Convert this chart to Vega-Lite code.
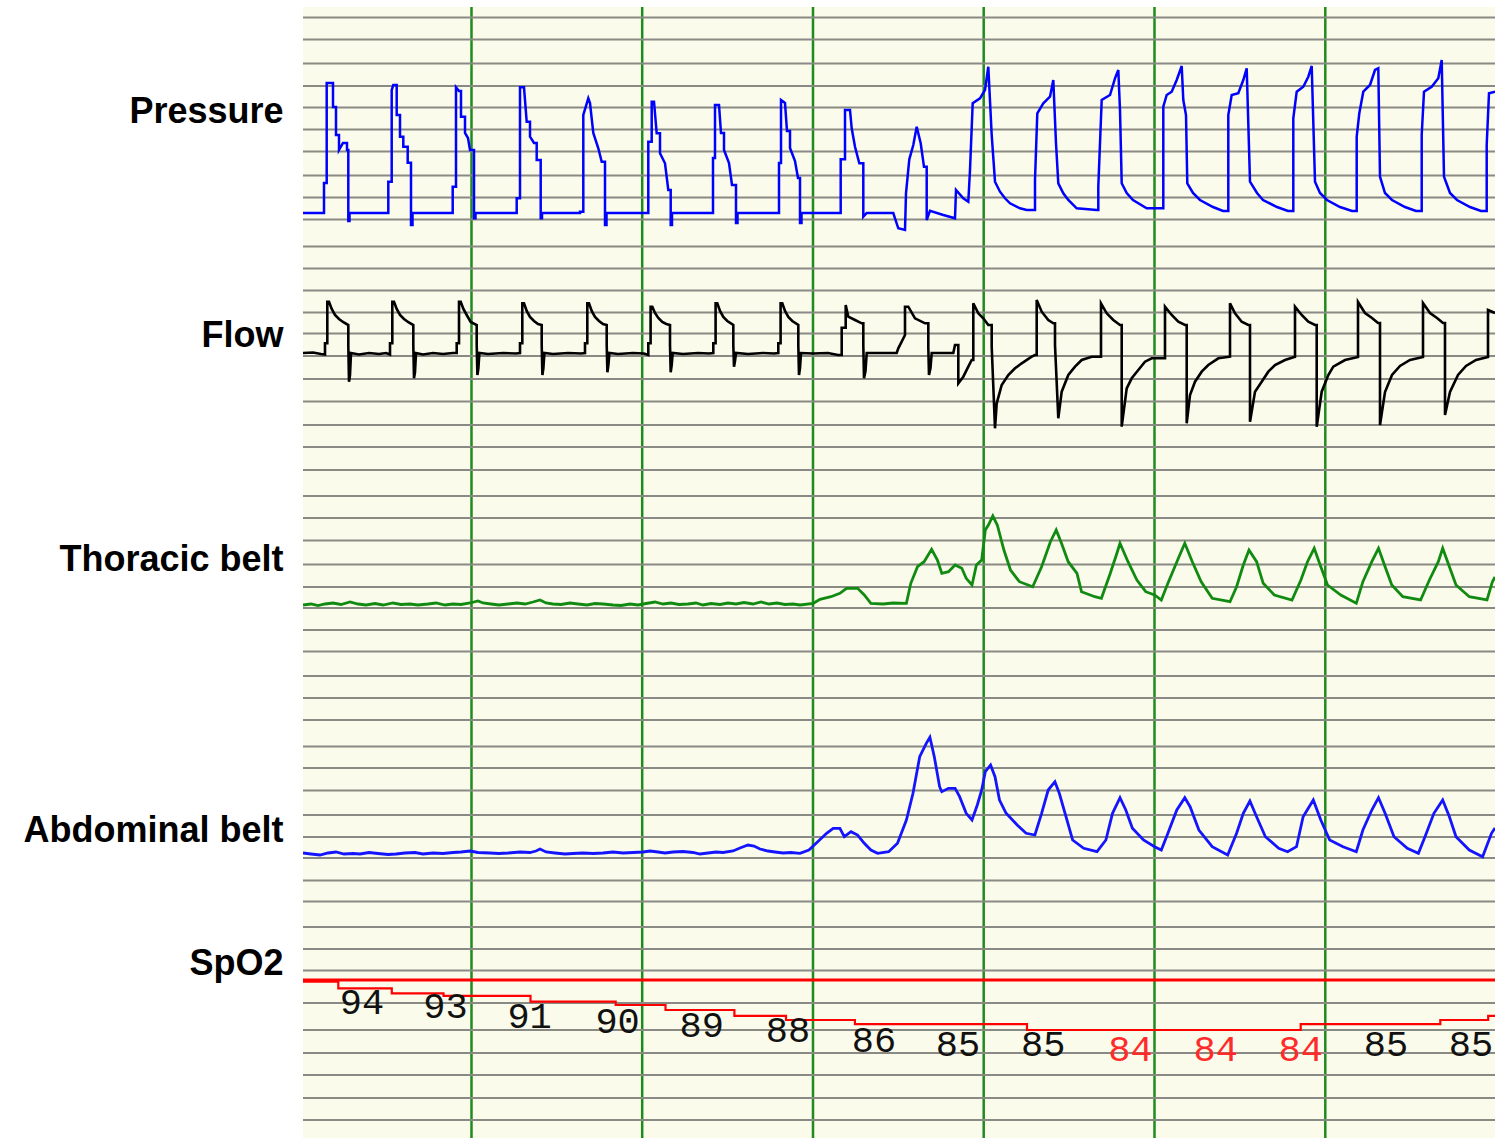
{
"$schema":"https://vega.github.io/schema/vega-lite/v6.json",
"width":1192,"height":1131,"autosize":"none",
"padding":{"left":303,"top":7,"right":0,"bottom":0},
"background":"white",
"config":{"view":{"fill":"#fafbea","stroke":null}},
"datasets":{
"grid":[{"row":17.5},{"row":39.5},{"row":63.5},{"row":86},{"row":107.5},{"row":129.5},{"row":151.5},{"row":175.5},{"row":197.5},{"row":219.5},{"row":246.5},{"row":268.5},{"row":290.5},{"row":312.5},{"row":333.5},{"row":356},{"row":379},{"row":401.5},{"row":425},{"row":447},{"row":470},{"row":496},{"row":518},{"row":540.5},{"row":564.5},{"row":587},{"row":608},{"row":630},{"row":651.5},{"row":676},{"row":698},{"row":720},{"row":746.5},{"row":768},{"row":790.5},{"row":815},{"row":837},{"row":858},{"row":880.5},{"row":901.5},{"row":927},{"row":949},{"row":970.5},{"row":1003},{"row":1030},{"row":1053},{"row":1075},{"row":1098},{"row":1120}],
"epochs":[{"s":168.5},{"s":339.2},{"s":510},{"s":680.7},{"s":851.5},{"s":1022.3}],
"ceiling":[{"spo2":96}],
"pressure":[{"s":0,"v":0},{"s":21,"v":0},{"s":21,"v":30},{"s":23.7,"v":30},{"s":23.7,"v":130},{"s":30,"v":130},{"s":30,"v":106},{"s":33,"v":106},{"s":33,"v":78},{"s":36,"v":78},{"s":36,"v":63},{"s":40,"v":70},{"s":44,"v":70},{"s":44,"v":63},{"s":45.3,"v":63},{"s":45.3,"v":-8},{"s":46.5,"v":-8},{"s":46.5,"v":0},
{"s":85.3,"v":0},{"s":85.3,"v":31.3},{"s":88.7,"v":31.3},{"s":88.7,"v":123},{"s":90.3,"v":128},{"s":93.7,"v":128},{"s":93.7,"v":98},{"s":97,"v":98},{"s":97,"v":76.3},{"s":100.3,"v":76.3},{"s":100.3,"v":66.3},{"s":104.7,"v":66.3},{"s":104.7,"v":50.3},{"s":108,"v":50.3},{"s":108,"v":-12},{"s":109.5,"v":-12},{"s":109.5,"v":0},
{"s":149.7,"v":0},{"s":149.7,"v":26.3},{"s":153,"v":26.3},{"s":153,"v":125.7},{"s":156,"v":122},{"s":158,"v":122},{"s":158,"v":96.3},{"s":162,"v":96.3},{"s":162,"v":80},{"s":165,"v":75},{"s":167,"v":63},{"s":171,"v":63},{"s":171,"v":-5.3},{"s":172.5,"v":-5.3},{"s":172.5,"v":0},
{"s":213.7,"v":0},{"s":213.7,"v":14.7},{"s":217,"v":14.7},{"s":217,"v":125.7},{"s":221,"v":125.7},{"s":223.7,"v":91.3},{"s":227,"v":91.3},{"s":227,"v":76.3},{"s":231,"v":70},{"s":233.7,"v":70},{"s":233.7,"v":53},{"s":237.7,"v":53},{"s":237.7,"v":-5.3},{"s":239,"v":-5.3},{"s":239,"v":0},
{"s":277,"v":0},{"s":277,"v":1.3},{"s":280.3,"v":1.3},{"s":280.3,"v":98},{"s":285.3,"v":114.7},{"s":287,"v":110},{"s":290.3,"v":80},{"s":295.3,"v":64.7},{"s":298.7,"v":51.3},{"s":302,"v":51.3},{"s":302,"v":-12},{"s":303.5,"v":-12},{"s":303.5,"v":0},
{"s":345.3,"v":0},{"s":345.3,"v":71.3},{"s":348.7,"v":71.3},{"s":348.7,"v":111.3},{"s":351,"v":111.3},{"s":353.7,"v":79.7},{"s":357,"v":79.7},{"s":357,"v":59.7},{"s":362,"v":49.7},{"s":365.3,"v":23},{"s":367.7,"v":23},{"s":367.7,"v":-12},{"s":369,"v":-12},{"s":369,"v":0},
{"s":410,"v":0},{"s":410,"v":55},{"s":412,"v":55},{"s":412,"v":108},{"s":416,"v":108},{"s":418,"v":80},{"s":421,"v":80},{"s":421,"v":63},{"s":426,"v":50},{"s":429,"v":28},{"s":433,"v":28},{"s":433,"v":-10},{"s":434.5,"v":-10},{"s":434.5,"v":0},
{"s":476,"v":0},{"s":476,"v":50},{"s":478,"v":50},{"s":478,"v":113},{"s":482,"v":110},{"s":484,"v":82},{"s":487,"v":82},{"s":487,"v":65},{"s":492,"v":52},{"s":495,"v":35},{"s":497,"v":35},{"s":497,"v":-10},{"s":498.5,"v":-10},{"s":498.5,"v":0},
{"s":537.7,"v":0},{"s":537.7,"v":53.7},{"s":542,"v":53.7},{"s":542,"v":103},{"s":547,"v":103},{"s":548.7,"v":84.7},{"s":552,"v":66.3},{"s":556.3,"v":49.7},{"s":560.3,"v":49.7},{"s":560.3,"v":-3.7},{"s":563.7,"v":0},{"s":590.3,"v":0},{"s":592,"v":-5.3},{"s":595.3,"v":-15.3},{"s":602,"v":-17},{"s":603,"v":19.7},{"s":606.3,"v":53.7},{"s":610.3,"v":68},{"s":613.7,"v":86.3},{"s":617.7,"v":69.7},{"s":621,"v":46.3},{"s":623.7,"v":46.3},{"s":623.7,"v":-7},{"s":627,"v":2.3},{"s":640.3,"v":-2},{"s":652,"v":-5.3},{"s":653,"v":23},{"s":660.3,"v":14.7},{"s":665.3,"v":11.3},{"s":667,"v":43},{"s":669.7,"v":109.7},{"s":677,"v":114.7},{"s":682,"v":123},{"s":685.3,"v":146.3},{"s":688.7,"v":78},{"s":692,"v":31.3},{"s":697,"v":21.3},{"s":702,"v":14.7},{"s":707,"v":9.7},{"s":717,"v":4.7},{"s":723.7,"v":3},{"s":730.3,"v":3},
{"s":732,"v":3},{"s":732,"v":33},{"s":734.3,"v":99.7},{"s":740.3,"v":109.7},{"s":747,"v":116.3},{"s":750.3,"v":133},{"s":753,"v":69.7},{"s":755.3,"v":29.7},{"s":760.3,"v":19.7},{"s":765.3,"v":13},{"s":773.7,"v":4.7},{"s":793.7,"v":3},
{"s":795.3,"v":3},{"s":795.3,"v":26.3},{"s":798.7,"v":113},{"s":807,"v":118},{"s":812,"v":134.7},{"s":815.3,"v":143},{"s":817,"v":103},{"s":818.7,"v":29.7},{"s":823.7,"v":20},{"s":830,"v":13},{"s":843.7,"v":4.7},{"s":858.7,"v":4.7},
{"s":860.3,"v":4.7},{"s":860.3,"v":106.3},{"s":863.7,"v":118},{"s":868.7,"v":121.3},{"s":873.7,"v":133},{"s":878.7,"v":147},{"s":880.3,"v":113},{"s":883,"v":98},{"s":884.3,"v":29.7},{"s":890,"v":20},{"s":897,"v":13},{"s":910,"v":6},{"s":920,"v":2},{"s":925.3,"v":2},
{"s":925.3,"v":98},{"s":928.7,"v":118},{"s":935.3,"v":119.7},{"s":940.3,"v":133},{"s":943.7,"v":144.7},{"s":947,"v":31.3},{"s":954,"v":20},{"s":960,"v":13},{"s":974,"v":6},{"s":985,"v":2},{"s":990.3,"v":2},
{"s":990.3,"v":94.7},{"s":993.7,"v":121.3},{"s":1000.3,"v":126.3},{"s":1005.3,"v":136.3},{"s":1008.7,"v":147},{"s":1012,"v":31.3},{"s":1017,"v":20},{"s":1024,"v":13},{"s":1037,"v":6},{"s":1049,"v":2},{"s":1053.7,"v":2},
{"s":1053.7,"v":76.3},{"s":1056.3,"v":99.7},{"s":1060.3,"v":121.3},{"s":1067,"v":128},{"s":1072,"v":143},{"s":1075.3,"v":144.7},{"s":1077,"v":36.3},{"s":1082,"v":20},{"s":1089,"v":13},{"s":1102,"v":6},{"s":1113,"v":2},{"s":1118.7,"v":2},
{"s":1118.7,"v":78},{"s":1121,"v":121.3},{"s":1128.7,"v":126.3},{"s":1135.3,"v":134.7},{"s":1138.7,"v":153},{"s":1141,"v":36.3},{"s":1147,"v":20},{"s":1154,"v":13},{"s":1167,"v":6},{"s":1178,"v":2},{"s":1183.7,"v":2},
{"s":1183.7,"v":68},{"s":1186,"v":119.7},{"s":1192,"v":121.3}],
"flow":[{"s":0,"v":0},{"s":10,"v":0.5},{"s":18,"v":-1},
{"s":22,"v":-1.5},{"s":22,"v":9.7},{"s":24.3,"v":9.7},{"s":24.3,"v":51.3},{"s":26,"v":51.3},{"s":28.7,"v":44},{"s":32,"v":38},{"s":36,"v":34},{"s":40,"v":31},{"s":45.3,"v":28},{"s":45.3,"v":8},{"s":46,"v":-28.7},{"s":47,"v":-22},{"s":48,"v":0},{"s":56,"v":-1.5},{"s":66,"v":0},{"s":76,"v":-1},{"s":83,"v":0},
{"s":87,"v":-1.5},{"s":87,"v":9.7},{"s":89.3,"v":9.7},{"s":89.3,"v":51.3},{"s":91,"v":51.3},{"s":93.7,"v":44},{"s":97,"v":38},{"s":101,"v":34},{"s":105,"v":31},{"s":110.3,"v":28},{"s":110.3,"v":8},{"s":111,"v":-25.3},{"s":112,"v":-19},{"s":113,"v":0},{"s":120,"v":-1.5},{"s":130,"v":0},{"s":140,"v":-1},{"s":150,"v":0},
{"s":153.7,"v":0},{"s":153.7,"v":9.7},{"s":156,"v":9.7},{"s":156,"v":51.3},{"s":157.7,"v":51.3},{"s":160.4,"v":44},{"s":163.7,"v":38},{"s":167.7,"v":31},{"s":173.7,"v":28},{"s":173.7,"v":8},{"s":174.4,"v":-22},{"s":175.4,"v":-15},{"s":176.4,"v":0},{"s":185,"v":-1},{"s":200,"v":0},{"s":213,"v":-0.5},
{"s":217,"v":0},{"s":217,"v":9.7},{"s":219.3,"v":9.7},{"s":219.3,"v":49.7},{"s":221,"v":49.7},{"s":223.7,"v":42},{"s":227,"v":36},{"s":231,"v":32},{"s":235,"v":29},{"s":238.7,"v":28},{"s":238.7,"v":8},{"s":239.4,"v":-22},{"s":240.4,"v":-15},{"s":241.4,"v":0},{"s":250,"v":-1},{"s":265,"v":0},{"s":278,"v":-0.5},
{"s":282,"v":0},{"s":282,"v":9.7},{"s":284.3,"v":9.7},{"s":284.3,"v":49.7},{"s":286,"v":49.7},{"s":288.7,"v":42},{"s":292,"v":36},{"s":296,"v":32},{"s":300,"v":29},{"s":303.7,"v":28},{"s":303.7,"v":8},{"s":304.4,"v":-19.3},{"s":305.4,"v":-12},{"s":306.4,"v":0},{"s":315,"v":-1},{"s":330,"v":0},{"s":341,"v":-0.5},
{"s":345.3,"v":-2},{"s":345.3,"v":9.7},{"s":347.6,"v":9.7},{"s":347.6,"v":46.3},{"s":349.3,"v":46.3},{"s":352,"v":40},{"s":355.3,"v":35},{"s":359.3,"v":31},{"s":363.3,"v":29},{"s":367,"v":28},{"s":367,"v":8},{"s":367.7,"v":-19.3},{"s":368.7,"v":-12},{"s":369.7,"v":0},{"s":380,"v":-1},{"s":395,"v":0},{"s":406,"v":-0.5},
{"s":410.3,"v":0},{"s":410.3,"v":9.7},{"s":412.6,"v":9.7},{"s":412.6,"v":49.7},{"s":414.3,"v":49.7},{"s":417,"v":42},{"s":420.3,"v":36},{"s":424.3,"v":32},{"s":430.3,"v":28},{"s":430.3,"v":8},{"s":431,"v":-13.7},{"s":432,"v":-8},{"s":433,"v":0},{"s":445,"v":-1},{"s":460,"v":0},{"s":471,"v":-0.5},
{"s":475.3,"v":0},{"s":475.3,"v":9.7},{"s":477.6,"v":9.7},{"s":477.6,"v":49.7},{"s":479.3,"v":49.7},{"s":482,"v":42},{"s":485.3,"v":36},{"s":489.3,"v":32},{"s":495.3,"v":28},{"s":495.3,"v":8},{"s":496,"v":-22},{"s":497,"v":-15},{"s":498,"v":0},{"s":510,"v":-0.5},{"s":525,"v":0},{"s":535,"v":-2},
{"s":538.7,"v":-2},{"s":538.7,"v":25.3},{"s":542.7,"v":25.3},{"s":542.7,"v":48},{"s":545.3,"v":36.3},{"s":552,"v":33},{"s":558.7,"v":29.7},{"s":560.3,"v":29.7},{"s":560.3,"v":8},{"s":561,"v":-25.3},{"s":562.5,"v":-18},{"s":563.7,"v":0},{"s":575,"v":0},{"s":593.7,"v":0},{"s":595.3,"v":4.7},{"s":598.7,"v":11.3},{"s":602,"v":18},{"s":602,"v":46.3},{"s":605.3,"v":46.3},{"s":612,"v":34.7},{"s":622,"v":29.7},{"s":625.3,"v":29.7},{"s":625.3,"v":6},{"s":626,"v":-22},{"s":627.5,"v":-15},{"s":628.7,"v":0},{"s":640,"v":0},{"s":650.3,"v":0},{"s":652,"v":8},{"s":655.3,"v":8},{"s":655.3,"v":-30.3},{"s":660.3,"v":-23.7},{"s":665.3,"v":-13.7},{"s":668.7,"v":-7},{"s":670.3,"v":-7},{"s":670.3,"v":49.7},{"s":675.3,"v":39.7},{"s":680.3,"v":34.7},{"s":685.3,"v":28},{"s":688.7,"v":28},{"s":688.7,"v":6.3},{"s":692,"v":-75.3},{"s":693.7,"v":-50.3},{"s":698.7,"v":-32},{"s":705.3,"v":-22},{"s":712,"v":-15.3},{"s":718.7,"v":-10.3},{"s":728.7,"v":-3.7},{"s":732,"v":-2},{"s":733.7,"v":-2},{"s":733.7,"v":53},{"s":738.7,"v":41.3},{"s":745.3,"v":33},{"s":750.3,"v":29.7},{"s":752,"v":29.7},{"s":752,"v":8},{"s":755.3,"v":-65.3},{"s":758.7,"v":-38.7},{"s":765.3,"v":-22},{"s":772,"v":-13.7},{"s":778.7,"v":-7},{"s":788.7,"v":-3.7},{"s":798,"v":-3.7},{"s":798,"v":49.7},{"s":803.7,"v":39.7},{"s":810.3,"v":33},{"s":817,"v":28},{"s":818.7,"v":28},{"s":818.7,"v":-73.7},{"s":823.7,"v":-35.3},{"s":828.7,"v":-25.3},{"s":835.3,"v":-17},{"s":842,"v":-8.7},{"s":848.7,"v":-5.3},{"s":862,"v":-5.3},{"s":862,"v":46.3},{"s":868.7,"v":38},{"s":875.3,"v":31.3},{"s":882,"v":28},{"s":883.7,"v":28},{"s":883.7,"v":-70.3},{"s":887,"v":-42},{"s":892,"v":-28.7},{"s":898.7,"v":-18.7},{"s":905.3,"v":-12},{"s":915.3,"v":-5.3},{"s":927,"v":-3.7},{"s":927,"v":49.7},{"s":932,"v":39.7},{"s":938.7,"v":31.3},{"s":945.3,"v":28},{"s":947,"v":28},{"s":947,"v":-68.7},{"s":952,"v":-38.7},{"s":958.7,"v":-28.7},{"s":965.3,"v":-18.7},{"s":972,"v":-12},{"s":982,"v":-7},{"s":992,"v":-3.7},{"s":992,"v":46.3},{"s":998.7,"v":38},{"s":1005.3,"v":31.3},{"s":1012,"v":28},{"s":1013.7,"v":28},{"s":1013.7,"v":-73.7},{"s":1018.7,"v":-38.7},{"s":1025.3,"v":-22},{"s":1030.3,"v":-13.7},{"s":1042,"v":-7},{"s":1055,"v":-4},{"s":1055,"v":51},{"s":1062,"v":40},{"s":1069,"v":35},{"s":1075,"v":30},{"s":1077,"v":30},{"s":1077,"v":-72},{"s":1082,"v":-39},{"s":1089,"v":-22},{"s":1097,"v":-13},{"s":1107,"v":-7},{"s":1120,"v":-4},{"s":1120,"v":50},{"s":1127,"v":40},{"s":1134,"v":35},{"s":1140,"v":30},{"s":1142,"v":30},{"s":1142,"v":-62},{"s":1147,"v":-39},{"s":1155,"v":-22},{"s":1163,"v":-13},{"s":1173,"v":-7},{"s":1185,"v":-4},{"s":1185,"v":43},{"s":1192,"v":40}],
"thoracic":[{"s":0,"v":-1},{"s":8,"v":0},{"s":15,"v":-1.5},{"s":22,"v":0},{"s":30,"v":1},{"s":38,"v":-0.5},{"s":47,"v":2},{"s":55,"v":0},{"s":63,"v":-1},{"s":72,"v":0.5},{"s":80,"v":-1},{"s":90,"v":1},{"s":98,"v":-0.5},{"s":107,"v":0},{"s":115,"v":-1},{"s":125,"v":0},{"s":133,"v":1},{"s":142,"v":-1},{"s":150,"v":0},{"s":158,"v":-0.5},{"s":167,"v":1},{"s":175,"v":3},{"s":180,"v":1},{"s":188,"v":0},{"s":196,"v":-1},{"s":205,"v":0},{"s":214,"v":1},{"s":222,"v":0},{"s":230,"v":2},{"s":237,"v":4},{"s":243,"v":1},{"s":250,"v":0},{"s":258,"v":-0.5},{"s":267,"v":1},{"s":275,"v":0},{"s":284,"v":-1},{"s":292,"v":0.5},{"s":300,"v":0},{"s":310,"v":-1},{"s":318,"v":-1.5},{"s":327,"v":0},{"s":335,"v":-1},{"s":343,"v":0.5},{"s":352,"v":2},{"s":360,"v":0},{"s":368,"v":1},{"s":376,"v":-0.5},{"s":385,"v":0},{"s":393,"v":1},{"s":400,"v":-1},{"s":408,"v":0.5},{"s":417,"v":-0.5},{"s":425,"v":1},{"s":433,"v":0},{"s":441,"v":1.5},{"s":450,"v":0},{"s":458,"v":2},{"s":466,"v":0},{"s":474,"v":1},{"s":482,"v":-0.5},{"s":490,"v":0},
{"s":497,"v":-1},{"s":510.3,"v":0.7},{"s":517,"v":4.7},{"s":528,"v":7.3},{"s":536.9,"v":10.7},{"s":543.5,"v":15.7},{"s":554.6,"v":15.7},{"s":561.3,"v":9},{"s":567.9,"v":0.7},{"s":580,"v":0},{"s":590,"v":1},{"s":603.4,"v":0.7},{"s":607.8,"v":20.7},{"s":614.5,"v":37.3},{"s":621.1,"v":42.3},{"s":628.6,"v":54.7},{"s":634.4,"v":44},{"s":638.8,"v":30.7},{"s":645.5,"v":32.3},{"s":652.1,"v":39},{"s":658.8,"v":35.7},{"s":663.2,"v":25.7},{"s":669,"v":19},{"s":673.4,"v":39},{"s":678.7,"v":44},{"s":682.3,"v":74},{"s":685.4,"v":79},{"s":689.8,"v":88},{"s":694.3,"v":79},{"s":700.9,"v":54},{"s":707.5,"v":34},{"s":716.4,"v":22.3},{"s":729.7,"v":17.3},{"s":738.6,"v":37.3},{"s":747.4,"v":62.3},{"s":753.2,"v":74},{"s":758.5,"v":60.7},{"s":765.2,"v":42.3},{"s":774,"v":30.7},{"s":778.5,"v":12.3},{"s":791.8,"v":7.3},{"s":798.4,"v":5.7},{"s":807.3,"v":30.7},{"s":813.9,"v":50.7},{"s":817,"v":60.7},{"s":825,"v":42.3},{"s":833.9,"v":24},{"s":842.7,"v":12.3},{"s":851.6,"v":9},{"s":858.3,"v":4},{"s":864.9,"v":20.7},{"s":876,"v":47.3},{"s":881.8,"v":60.7},{"s":889.3,"v":42.3},{"s":898.2,"v":22.3},{"s":909.2,"v":5.7},{"s":927,"v":2.3},{"s":933.6,"v":17.3},{"s":940.3,"v":39},{"s":946,"v":54},{"s":953.6,"v":42.3},{"s":960.2,"v":20.7},{"s":971.3,"v":9},{"s":989,"v":4},{"s":997.9,"v":24},{"s":1004.5,"v":42.3},{"s":1011.2,"v":55.7},{"s":1017.8,"v":37.3},{"s":1024.5,"v":19},{"s":1037.8,"v":9},{"s":1053.3,"v":0.7},{"s":1059.9,"v":22.3},{"s":1068.8,"v":42.3},{"s":1075.5,"v":55.7},{"s":1082.1,"v":37.3},{"s":1088.8,"v":19},{"s":1099.8,"v":7.3},{"s":1117.6,"v":4},{"s":1126.4,"v":24},{"s":1135.3,"v":42.3},{"s":1139.7,"v":55.7},{"s":1146.4,"v":37.3},{"s":1153,"v":19},{"s":1166.3,"v":7.3},{"s":1184,"v":4},{"s":1189.4,"v":22.3},{"s":1192,"v":27}],
"abdominal":[{"s":0,"v":0},{"s":8,"v":-1},{"s":17,"v":-2},{"s":25,"v":0},{"s":33,"v":1},{"s":41,"v":-1},{"s":50,"v":-0.5},{"s":57,"v":-1},{"s":66,"v":0.5},{"s":75,"v":-0.5},{"s":85,"v":-1.5},{"s":93,"v":-1},{"s":102,"v":0},{"s":112,"v":0.5},{"s":120,"v":-1},{"s":130,"v":0},{"s":140,"v":-0.5},{"s":150,"v":0.5},{"s":158,"v":1},{"s":167,"v":2},{"s":175,"v":0.5},{"s":187,"v":0},{"s":196,"v":-0.5},{"s":205,"v":0},{"s":217,"v":1},{"s":227,"v":0.5},{"s":233,"v":2},{"s":237,"v":4},{"s":243,"v":1},{"s":252,"v":0},{"s":262,"v":-1},{"s":270,"v":-0.5},{"s":280,"v":0},{"s":290,"v":-0.5},{"s":300,"v":0},{"s":310,"v":1},{"s":320,"v":0},{"s":330,"v":0.5},{"s":340,"v":1},{"s":347,"v":2},{"s":355,"v":1},{"s":362,"v":0},{"s":370,"v":1},{"s":380,"v":1.5},{"s":390,"v":0.5},{"s":397,"v":-1},{"s":405,"v":0},{"s":413,"v":1},{"s":420,"v":0.5},{"s":430,"v":2},{"s":437,"v":5},{"s":445,"v":8},{"s":451,"v":7},{"s":457,"v":4},{"s":465,"v":2},{"s":472,"v":1},{"s":480,"v":0},{"s":488,"v":0.5},
{"s":497,"v":-0.3},{"s":505.9,"v":3},{"s":514.7,"v":11.3},{"s":523.6,"v":19.7},{"s":530.2,"v":24.7},{"s":536.9,"v":24.7},{"s":541.3,"v":16.3},{"s":548,"v":21.3},{"s":554.6,"v":18},{"s":561.3,"v":9.7},{"s":567.9,"v":3},{"s":574.6,"v":-0.3},{"s":585.7,"v":1.3},{"s":594.5,"v":9.7},{"s":603.4,"v":33},{"s":610,"v":59.7},{"s":616.7,"v":96.3},{"s":623.3,"v":109.7},{"s":626.9,"v":115.7},{"s":631.3,"v":96.3},{"s":636.6,"v":66.3},{"s":638.8,"v":61.3},{"s":645.5,"v":64.7},{"s":652.1,"v":64.7},{"s":656.6,"v":56.3},{"s":663.2,"v":39.7},{"s":669,"v":33},{"s":674.3,"v":48},{"s":678.7,"v":63},{"s":682.3,"v":81.3},{"s":687.6,"v":88},{"s":692,"v":76.3},{"s":696.5,"v":53},{"s":703.1,"v":39.7},{"s":714.2,"v":28},{"s":723.1,"v":19.7},{"s":731.9,"v":18},{"s":738.6,"v":39.7},{"s":745.2,"v":63},{"s":751.9,"v":71.3},{"s":756.3,"v":59.7},{"s":763,"v":36.3},{"s":769.6,"v":13},{"s":780.7,"v":4.7},{"s":794,"v":1.3},{"s":802.9,"v":13},{"s":809.5,"v":39.7},{"s":817,"v":55.3},{"s":822.8,"v":43},{"s":829.4,"v":24.7},{"s":840.5,"v":13},{"s":851.6,"v":6.3},{"s":858.3,"v":3},{"s":864.9,"v":19.7},{"s":873.8,"v":43},{"s":881.8,"v":55.3},{"s":887.1,"v":46.3},{"s":895.9,"v":23},{"s":909.2,"v":6.3},{"s":924.7,"v":-2},{"s":933.6,"v":19.7},{"s":940.3,"v":39.7},{"s":946.9,"v":52},{"s":953.6,"v":36.3},{"s":962.4,"v":16.3},{"s":975.7,"v":4.7},{"s":984.6,"v":1.3},{"s":993.5,"v":6.3},{"s":1000.1,"v":36.3},{"s":1010.3,"v":53},{"s":1017.8,"v":33},{"s":1026.7,"v":13},{"s":1040,"v":6.3},{"s":1053.3,"v":1.3},{"s":1059.9,"v":23},{"s":1068.8,"v":43},{"s":1075.5,"v":55.3},{"s":1082.1,"v":39.7},{"s":1091,"v":16.3},{"s":1104.3,"v":4.7},{"s":1115.4,"v":-0.3},{"s":1122,"v":16.3},{"s":1130.9,"v":39.7},{"s":1139.7,"v":53},{"s":1146.4,"v":36.3},{"s":1153,"v":16.3},{"s":1166.3,"v":3},{"s":1179.6,"v":-3.7},{"s":1188.5,"v":19.7},{"s":1192,"v":25}],
"spo2":[{"s":0,"spo2":95.6},{"s":35.3,"spo2":94.0},{"s":88.8,"spo2":92.8},{"s":140.5,"spo2":92.2},{"s":227.5,"spo2":90.8},{"s":312.7,"spo2":90.0},{"s":362.5,"spo2":88.8},{"s":431.4,"spo2":87.4},{"s":483,"spo2":86.4},{"s":551.9,"spo2":85.4},{"s":724,"spo2":84.0},{"s":997.7,"spo2":85.4},{"s":1137.3,"spo2":86.4},{"s":1185.2,"spo2":87.4},{"s":1192,"spo2":87.4}],
"spo2labels":[{"s":59,"spo2":94},{"s":142.4,"spo2":93},{"s":226.6,"spo2":91},{"s":314.6,"spo2":90},{"s":398.8,"spo2":89},{"s":485,"spo2":88},{"s":571,"spo2":86},{"s":655,"spo2":85},{"s":740.3,"spo2":85},{"s":827.4,"spo2":84},{"s":912.7,"spo2":84},{"s":997.7,"spo2":84},{"s":1083,"spo2":85},{"s":1168,"spo2":85}]
},
"resolve":{"scale":{"y":"independent"}},
"layer":[
{"data":{"name":"epochs"},"mark":{"type":"rule","color":"#1f8a1f","strokeWidth":2.5},
 "encoding":{"x":{"field":"s","type":"quantitative","scale":{"domain":[0,1192],"nice":false,"zero":false},"axis":null}}},
{"data":{"name":"grid"},"mark":{"type":"rule","color":"#8a8a84","strokeWidth":2.2},
 "encoding":{"y":{"field":"row","type":"quantitative","scale":{"domain":[7,1138],"reverse":true,"nice":false,"zero":false},
  "axis":{"values":[111,335,559,830,963],"labelExpr":"datum.value==111?'Pressure':datum.value==335?'Flow':datum.value==559?'Thoracic belt':datum.value==830?'Abdominal belt':'SpO2'","ticks":false,"domain":false,"grid":false,"title":null,"labelFont":"Liberation Sans","labelFontSize":36,"labelFontWeight":"bold","labelColor":"#000000","labelPadding":20,"labelLimit":400,"labelOverlap":false,"labelFlush":false,"labelBaseline":"middle"}}}},
{"data":{"name":"ceiling"},"mark":{"type":"rule","color":"#ff0000","strokeWidth":3},
 "encoding":{"y":{"field":"spo2","type":"quantitative","scale":{"domain":[58.08,329.52],"nice":false,"zero":false},"axis":null}}},
{"data":{"name":"pressure"},"mark":{"type":"line","color":"#0000ff","strokeWidth":2.5,"clip":true},
 "encoding":{"x":{"field":"s","type":"quantitative","scale":{"domain":[0,1192],"nice":false,"zero":false},"axis":null},
  "y":{"field":"v","type":"quantitative","scale":{"domain":[-925,206],"nice":false,"zero":false},"axis":null},"order":{"value":null}}},
{"data":{"name":"flow"},"mark":{"type":"line","color":"#000000","strokeWidth":2.6,"clip":true},
 "encoding":{"x":{"field":"s","type":"quantitative","scale":{"domain":[0,1192],"nice":false,"zero":false},"axis":null},
  "y":{"field":"v","type":"quantitative","scale":{"domain":[-785,346],"nice":false,"zero":false},"axis":null},"order":{"value":null}}},
{"data":{"name":"thoracic"},"mark":{"type":"line","color":"#118a11","strokeWidth":2.8,"clip":true},
 "encoding":{"x":{"field":"s","type":"quantitative","scale":{"domain":[0,1192],"nice":false,"zero":false},"axis":null},
  "y":{"field":"v","type":"quantitative","scale":{"domain":[-534,597],"nice":false,"zero":false},"axis":null},"order":{"value":null}}},
{"data":{"name":"abdominal"},"mark":{"type":"line","color":"#1414ff","strokeWidth":2.8,"clip":true},
 "encoding":{"x":{"field":"s","type":"quantitative","scale":{"domain":[0,1192],"nice":false,"zero":false},"axis":null},
  "y":{"field":"v","type":"quantitative","scale":{"domain":[-285,846],"nice":false,"zero":false},"axis":null},"order":{"value":null}}},
{"data":{"name":"spo2"},"mark":{"type":"line","color":"#ff0000","strokeWidth":2.2,"interpolate":"step-after","clip":true},
 "encoding":{"x":{"field":"s","type":"quantitative","scale":{"domain":[0,1192],"nice":false,"zero":false},"axis":null},
  "y":{"field":"spo2","type":"quantitative","scale":{"domain":[58.08,329.52],"nice":false,"zero":false},"axis":null},"order":{"value":null}}},
{"data":{"name":"spo2labels"},"mark":{"type":"text","font":"Liberation Mono","fontSize":37,"align":"center","baseline":"middle","clip":true},
 "encoding":{"x":{"field":"s","type":"quantitative","scale":{"domain":[0,1192],"nice":false,"zero":false},"axis":null},
  "y":{"field":"spo2","type":"quantitative","scale":{"domain":[65.4,304.5],"nice":false,"zero":false},"axis":null},
  "text":{"field":"spo2","type":"quantitative"},
  "color":{"condition":{"test":"datum.spo2 <= 84","value":"#ff2a2a"},"value":"#111111"}}}
]
}
